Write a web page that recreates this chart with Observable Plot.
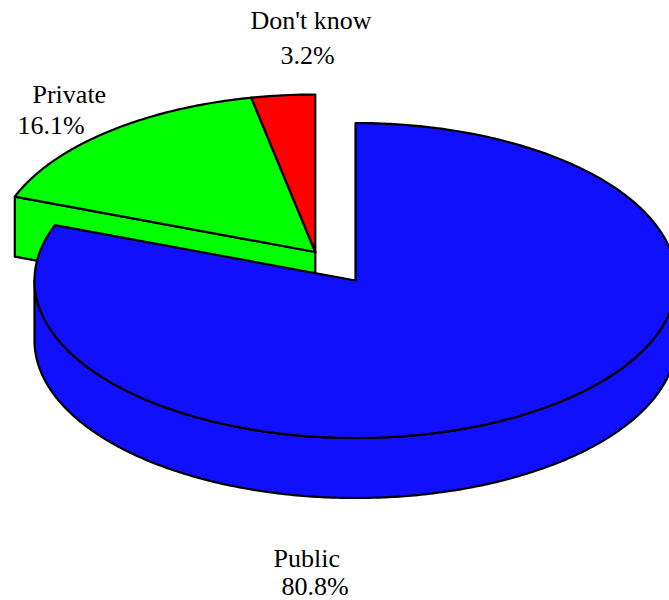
<!DOCTYPE html>
<html>
<head>
<meta charset="utf-8">
<script src="https://cdn.jsdelivr.net/npm/d3@7"></script>
<script src="https://cdn.jsdelivr.net/npm/@observablehq/plot@0.6"></script>
<style>
  html, body { margin: 0; padding: 0; overflow: hidden; background: #fff; }
  #chart svg { overflow: hidden; display: block; }
  #chart svg text { font-family: "Liberation Serif", "Times New Roman", serif !important; }
</style>
</head>
<body>
<div id="chart"></div>
<script>
// ---- data ----
const categories = ["Public", "Private", "Don't know"];
const shares = [80.8, 16.1, 3.2];
const colors = ["#1010ff", "#00ff00", "#ff0000"];
const exploded = [false, true, true];

// ---- layout (not data) ----
const W = 669, H = 600;
const geom = {cx: 355, cy: 280, rx: 321, ry: 157.5, depth: 60, explode: 0.22};
// label lines: [left edge, baseline] for name line and value line
const labelLayout = [
  {name: [273, 566], value: [281, 594]},   // Public
  {name: [32, 102],  value: [17, 133]},    // Private
  {name: [250, 28],  value: [280, 63]}     // Don't know
];

// ---- geometry from data ----
const arcs = d3.pie().sort(null).value(d => d).startAngle(0).endAngle(2 * Math.PI)(shares);

// explosion offset for the exploded group along its mid-angle
const ex = arcs.filter((a, i) => exploded[i]);
const exMid = (d3.min(ex, a => a.startAngle) + d3.max(ex, a => a.endAngle)) / 2;
const exOff = {
  x: geom.rx * geom.explode * Math.sin(exMid),
  y: -geom.ry * geom.explode * Math.cos(exMid)
};

function pt(theta, c, dy = 0) {
  return {x: c.x + geom.rx * Math.sin(theta), y: c.y - geom.ry * Math.cos(theta) + dy};
}
function arcPts(a0, a1, c, dy = 0) {
  const n = Math.max(2, Math.ceil(Math.abs(a1 - a0) / 0.01));
  const out = [];
  for (let k = 0; k <= n; k++) out.push(pt(a0 + (a1 - a0) * k / n, c, dy));
  return out;
}

const N = shares.length;
const faces = [];
const order = d3.range(N).sort((a, b) => (exploded[b] - exploded[a]) || (a - b));
for (const i of order) {
  const a = arcs[i];
  const c = exploded[i] ? {x: geom.cx + exOff.x, y: geom.cy + exOff.y} : {x: geom.cx, y: geom.cy};
  const D = geom.depth;
  const prev = (i + N - 1) % N, next = (i + 1) % N;
  // outer wall visible portion (front half: pi/2 .. 3pi/2)
  const w0 = Math.max(a.startAngle, Math.PI / 2), w1 = Math.min(a.endAngle, 3 * Math.PI / 2);
  if (w1 > w0) {
    const top = arcPts(w0, w1, c, 0);
    const bot = arcPts(w1, w0, c, D);
    faces.push({color: colors[i], pts: [...top, ...bot, top[0]]});
  }
  // radial faces (only at group boundaries, facing the viewer)
  if (exploded[prev] !== exploded[i] && Math.sin(a.startAngle) < -1e-6) {
    const p = pt(a.startAngle, c);
    faces.push({color: colors[i], pts: [{x: c.x, y: c.y}, p, {x: p.x, y: p.y + D}, {x: c.x, y: c.y + D}, {x: c.x, y: c.y}]});
  }
  if (exploded[next] !== exploded[i] && Math.sin(a.endAngle) > 1e-6) {
    const p = pt(a.endAngle, c);
    faces.push({color: colors[i], pts: [{x: c.x, y: c.y}, p, {x: p.x, y: p.y + D}, {x: c.x, y: c.y + D}, {x: c.x, y: c.y}]});
  }
  // top face
  faces.push({color: colors[i], pts: [{x: c.x, y: c.y}, ...arcPts(a.startAngle, a.endAngle, c), {x: c.x, y: c.y}]});
}

const textRows = [];
categories.forEach((name, i) => {
  const L = labelLayout[i];
  textRows.push({x: L.name[0], y: L.name[1], t: name});
  textRows.push({x: L.value[0], y: L.value[1], t: shares[i].toFixed(1) + "%"});
});

const chart = Plot.plot({
  width: W,
  height: H,
  margin: 0,
  x: {domain: [0, W], range: [0, W], axis: null},
  y: {domain: [0, H], range: [0, H], axis: null},
  style: {background: "#fff", overflow: "hidden", fontFamily: "'Liberation Serif', serif"},
  marks: [
    ...faces.map(f => Plot.line(f.pts, {
      x: "x", y: "y", fill: f.color, stroke: "#000", strokeWidth: 2.2,
      strokeLinejoin: "round", curve: "linear"
    })),
    Plot.text(textRows, {
      x: "x", y: "y", text: "t", textAnchor: "start", lineAnchor: "bottom",
      fontFamily: "'Liberation Serif', serif", fontSize: 26, fill: "#000"
    })
  ]
});
document.getElementById("chart").appendChild(chart);
</script>
</body>
</html>
